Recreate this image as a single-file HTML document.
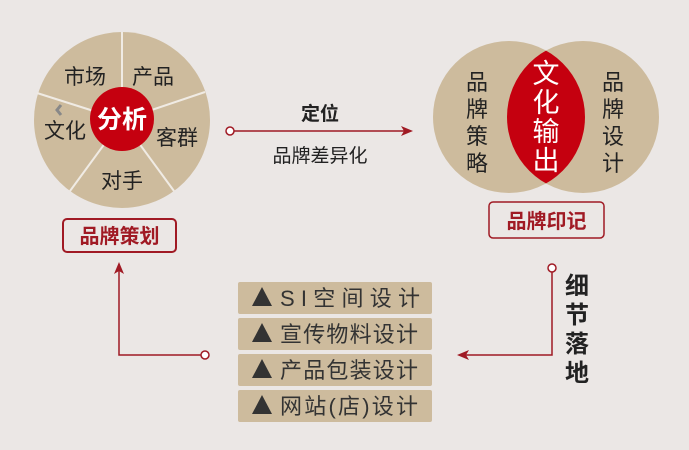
<!DOCTYPE html>
<html><head><meta charset="utf-8"><style>
body{margin:0;width:689px;height:445px;background:#ebe7e5;overflow:hidden}
svg text{font-family:"Liberation Sans","Noto Sans CJK SC",sans-serif}
</style></head><body>
<svg width="689" height="445" viewBox="0 0 689 445" xmlns="http://www.w3.org/2000/svg">
<defs>
<clipPath id="lc"><circle cx="509" cy="117" r="76"/></clipPath>
</defs>
<circle cx="122" cy="120" r="88" fill="#cdbb9d"/>
<g stroke="#f0ebe4" stroke-width="2">
<line x1="122" y1="120" x2="122" y2="32"/>
<line x1="122" y1="120" x2="205" y2="92"/>
<line x1="122" y1="120" x2="174" y2="191"/>
<line x1="122" y1="120" x2="70" y2="191"/>
<line x1="122" y1="120" x2="37" y2="93"/>
</g>
<circle cx="122" cy="119" r="32" fill="#c5000f"/>
<text x="122" y="128" font-size="25" fill="#fff" text-anchor="middle" font-weight="bold">分析</text>
<g font-size="21" fill="#222" text-anchor="middle">
<text x="85" y="84">市场</text>
<text x="153" y="84">产品</text>
<text x="65" y="138">文化</text>
<text x="177" y="145">客群</text>
<text x="122" y="188">对手</text>
</g>
<polyline points="61,105 57,110 61,115" fill="none" stroke="#888" stroke-width="3"/>
<rect x="63" y="219" width="113" height="33" rx="4" fill="none" stroke="#a01a24" stroke-width="2"/>
<text x="119.5" y="243" font-size="20" fill="#a01a24" text-anchor="middle" font-weight="bold">品牌策划</text>
<line x1="234" y1="131" x2="405" y2="131" stroke="#a01a24" stroke-width="1.5"/>
<circle cx="230" cy="131" r="4" fill="#fff" stroke="#a01a24" stroke-width="1.5"/>
<polygon points="413,131 401,126 404,131 401,136" fill="#a01a24"/>
<text x="320" y="120" font-size="19" fill="#222" text-anchor="middle" font-weight="bold">定位</text>
<text x="320" y="162" font-size="19" fill="#222" text-anchor="middle">品牌差异化</text>
<circle cx="509" cy="117" r="76" fill="#cdbb9d"/>
<circle cx="583" cy="117" r="76" fill="#cdbb9d"/>
<circle cx="583" cy="117" r="76" fill="#c5000f" clip-path="url(#lc)"/>
<g font-size="22" fill="#222" text-anchor="middle">
<text x="477" y="90">品</text><text x="477" y="117">牌</text><text x="477" y="144">策</text><text x="477" y="171">略</text>
<text x="613" y="90">品</text><text x="613" y="117">牌</text><text x="613" y="144">设</text><text x="613" y="171">计</text>
</g>
<g font-size="27" fill="#fff" text-anchor="middle">
<text x="546" y="83">文</text><text x="546" y="112">化</text><text x="546" y="141">输</text><text x="546" y="170">出</text>
</g>
<rect x="489" y="202" width="115" height="36" rx="4" fill="none" stroke="#a01a24" stroke-width="1.5"/>
<text x="546.5" y="228" font-size="20" fill="#a01a24" text-anchor="middle" font-weight="bold">品牌印记</text>
<g fill="#cdbb9d">
<rect x="238" y="282" width="194" height="32" rx="2"/>
<rect x="238" y="318" width="194" height="32" rx="2"/>
<rect x="238" y="354" width="194" height="32" rx="2"/>
<rect x="238" y="390" width="194" height="32" rx="2"/>
</g>
<g fill="#333">
<polygon points="262,287 272,306 252,306"/>
<polygon points="262,323 272,342 252,342"/>
<polygon points="262,359 272,378 252,378"/>
<polygon points="262,395 272,414 252,414"/>
</g>
<g font-size="22" fill="#333">
<text x="280" y="306" textLength="140" lengthAdjust="spacing">S I 空 间 设 计</text>
<text x="280" y="342" textLength="138" lengthAdjust="spacing">宣传物料设计</text>
<text x="280" y="378" textLength="138" lengthAdjust="spacing">产品包装设计</text>
<text x="280" y="414" textLength="138" lengthAdjust="spacing">网站(店)设计</text>
</g>
<polyline points="201,355 119,355 119,270" fill="none" stroke="#a01a24" stroke-width="1.5"/>
<polygon points="119,262 114,274 119,271 124,274" fill="#a01a24"/>
<circle cx="205" cy="355" r="4" fill="#fff" stroke="#a01a24" stroke-width="1.5"/>
<polyline points="552,272 552,355 465,355" fill="none" stroke="#a01a24" stroke-width="1.5"/>
<polygon points="457,355 469,350 466,355 469,360" fill="#a01a24"/>
<circle cx="552" cy="268" r="4" fill="#fff" stroke="#a01a24" stroke-width="1.5"/>
<g font-size="24" fill="#222" text-anchor="middle" font-weight="bold">
<text x="577" y="294">细</text><text x="577" y="323">节</text><text x="577" y="352">落</text><text x="577" y="381">地</text>
</g>
</svg>
</body></html>
